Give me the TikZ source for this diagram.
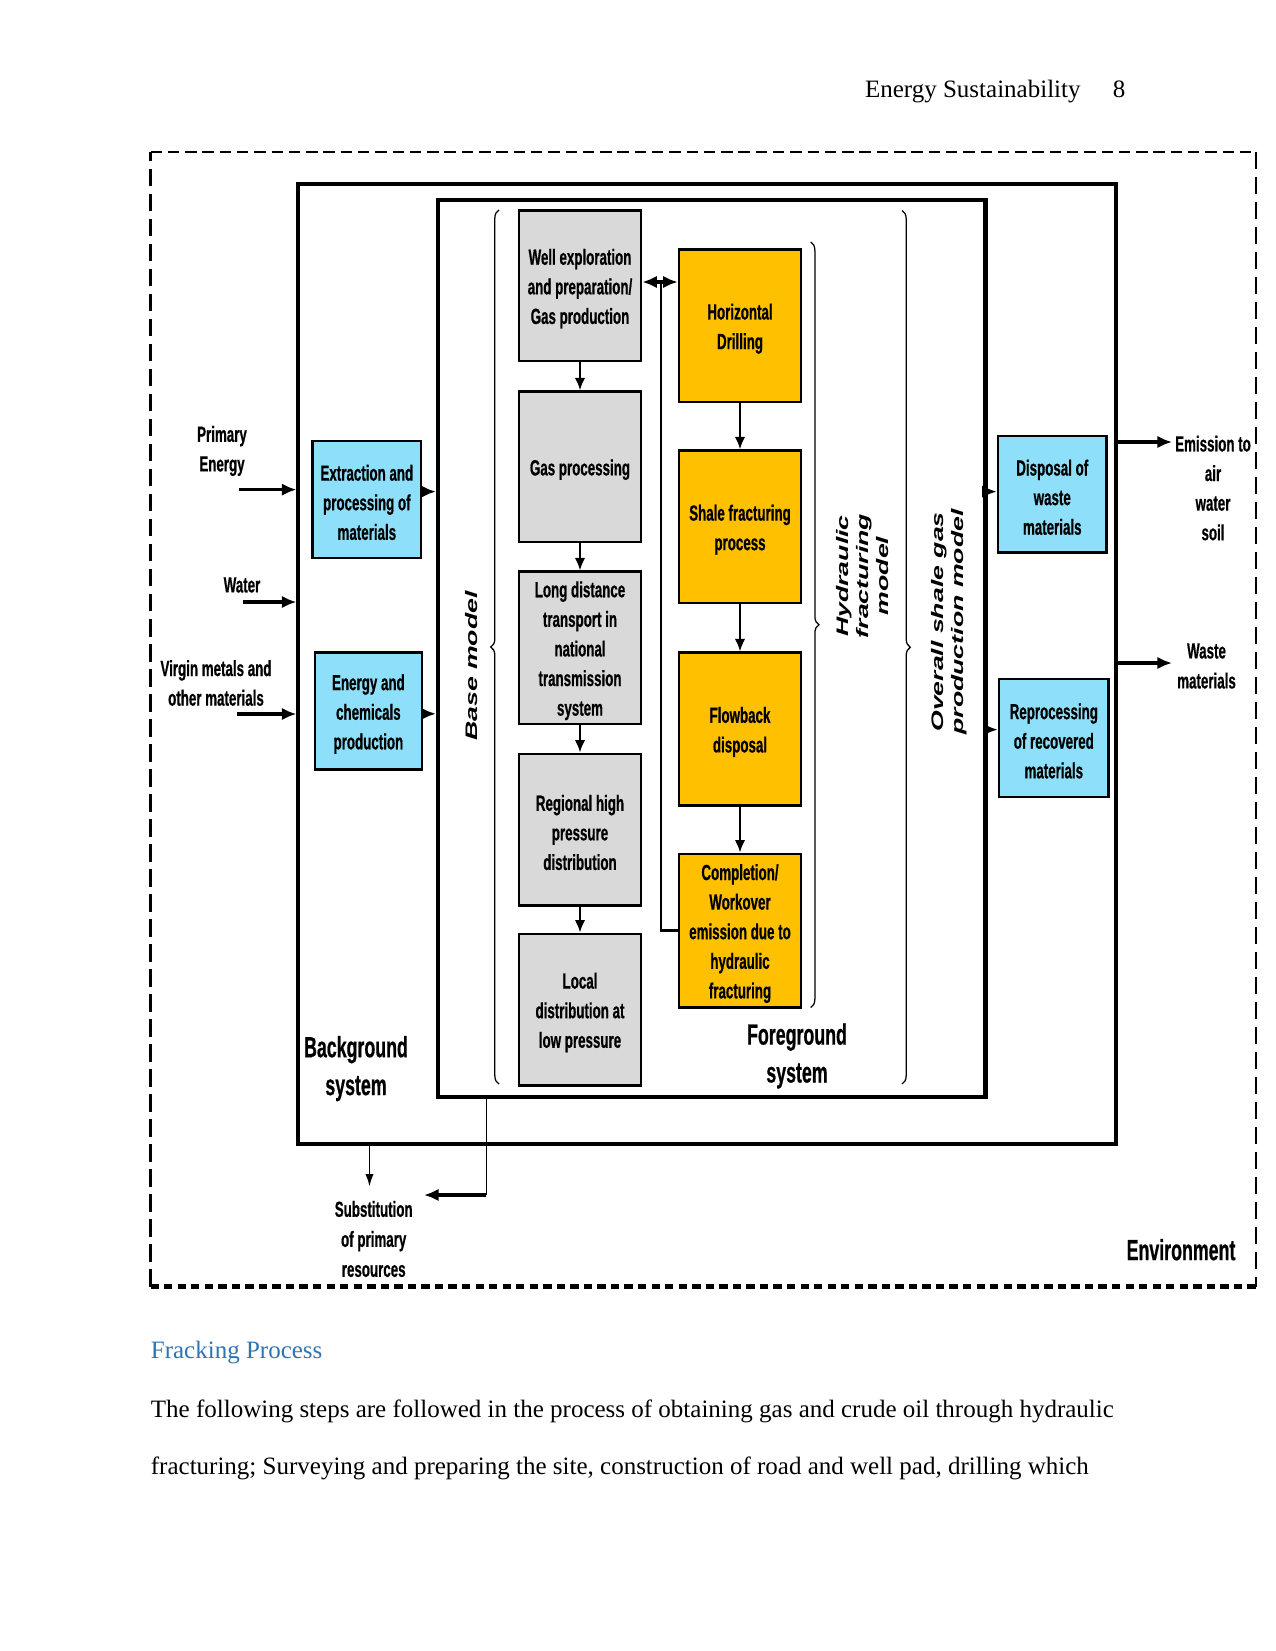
\documentclass[tikz,border=0pt]{standalone}
\usepackage{fontspec}
\setmainfont{Liberation Serif}
\newfontfamily\dfont[FakeStretch=0.61,FakeBold=0.6]{Liberation Sans}
\newfontfamily\rfont[FakeStretch=1.6]{Liberation Sans}
\usetikzlibrary{fit,arrows.meta,decorations.pathreplacing}
\definecolor{gboxc}{RGB}{217,217,217}
\definecolor{oboxc}{RGB}{255,192,0}
\definecolor{bboxc}{RGB}{142,224,250}
\definecolor{headc}{RGB}{46,116,181}
\begin{document}
\begin{tikzpicture}[x=0.48pt,y=-0.48pt,
  dtxt/.style={font=\dfont\bfseries\fontsize{10.5}{14.2}\selectfont, align=center, inner sep=0pt},
  btxt/.style={dtxt, yshift=-1.4pt},
  bigtxt/.style={font=\dfont\bfseries\fontsize{14}{18.2}\selectfont, align=center, inner sep=0pt},
  rtxt/.style={font=\rfont\bfseries\itshape\fontsize{8}{9.6}\selectfont, align=center, inner sep=0pt},
  pbox/.style={draw=black, line width=1.2pt, inner sep=0pt, fit={#1}},
  gbox/.style={pbox={#1}, fill=gboxc},
  obox/.style={pbox={#1}, fill=oboxc},
  bbox/.style={pbox={#1}, fill=bboxc},
  frame/.style={draw=black, inner sep=0pt, fit={#1}},
  arr/.style={line width=1pt, -{Latex[length=6pt,width=5pt]}},
  tarr/.style={line width=1.8pt, -{Latex[length=7pt,width=6pt]}},
  bar/.style={line width=0.6pt, decorate, decoration={brace, amplitude=4pt}},
  serif/.style={font=\fontsize{12}{14}\selectfont, inner sep=0pt}
]
\useasboundingbox (0,0) rectangle (1275,1651);

% header
\node[serif, anchor=base east] (hd) at (1081,98) {Energy Sustainability};
\node[serif, anchor=base] (pg) at (1119,98) {8};

% environment frame
\draw[line width=1pt, dash pattern=on 8.5pt off 3.5pt] (150.5,1286.5) -- (150.5,151.6);
\draw[line width=1pt, dash pattern=on 5.5pt off 2.8pt] (150.5,151.6) -- (1256,151.6);
\draw[line width=1pt, dash pattern=on 8.5pt off 3.5pt] (1256,151.6) -- (1256,1286.5);
\draw[line width=2.2pt, dash pattern=on 4pt off 2.5pt] (150.5,1286.5) -- (1256,1286.5);

% system boxes
\node[frame={(298,184) (1116,1144)}, line width=1.5pt] (bg) {};
\node[frame={(438,200) (985.5,1097)}, line width=2pt] (fg) {};

% gray column
\node[gbox={(519,210.5) (641,361)}] (g1) {};
\node[gbox={(519,391.6) (641,542)}] (g2) {};
\node[gbox={(519,571.7) (641,724)}] (g3) {};
\node[gbox={(519,753.8) (641,905.4)}] (g4) {};
\node[gbox={(519,933.8) (641,1085.4)}] (g5) {};
\node[btxt] (tg1) at (g1) {Well exploration\\and preparation/\\Gas production};
\node[btxt] (tg2) at (g2) {Gas processing};
\node[btxt] (tg3) at (g3) {Long distance\\transport in\\national\\transmission\\system};
\node[btxt] (tg4) at (g4) {Regional high\\pressure\\distribution};
\node[btxt] (tg5) at (g5) {Local\\distribution at\\low pressure};

% orange column
\node[obox={(679,249.5) (801,402)}] (o1) {};
\node[obox={(679,450.6) (801,603)}] (o2) {};
\node[obox={(679,652.7) (801,805.4)}] (o3) {};
\node[obox={(679,853.8) (801,1007.5)}] (o4) {};
\node[btxt] (to1) at (o1) {Horizontal\\Drilling};
\node[btxt] (to2) at (o2) {Shale fracturing\\process};
\node[btxt] (to3) at (o3) {Flowback\\disposal};
\node[btxt] (to4) at (o4) {Completion/\\Workover\\emission due to\\hydraulic\\fracturing};

% blue boxes
\node[bbox={(312.7,441) (421,558)}] (b1) {};
\node[bbox={(314.8,652.7) (422,769.6)}] (b2) {};
\node[bbox={(998,436) (1106.5,552.7)}] (b3) {};
\node[bbox={(999,679) (1108.6,797)}] (b4) {};
\node[btxt] (tb1) at (b1) {Extraction and\\processing of\\materials};
\node[btxt] (tb2) at (b2) {Energy and\\chemicals\\production};
\node[btxt] (tb3) at (b3) {Disposal of\\waste\\materials};
\node[btxt] (tb4) at (b4) {Reprocessing\\of recovered\\materials};

% column arrows
\foreach \a/\b in {g1/g2,g2/g3,g3/g4,g4/g5,o1/o2,o2/o3,o3/o4}
  \draw[arr] (\a.south) -- (\b.north);

% feedback loop
\coordinate (fb) at (661,282);
\draw[line width=1.2pt] (o4.west) -- (o4.west -| fb) -- (fb);
\draw[line width=1.8pt, {Latex[length=7pt,width=6pt]}-{Latex[length=7pt,width=6pt]}] (g1.east |- fb) -- (o1.west |- fb);

% blue box connections
\draw[tarr] (b1.east |- 0,491.6) -- (fg.west |- 0,491.6);
\draw[tarr] (b2.east |- 0,713.8) -- (fg.west |- 0,713.8);
\draw[tarr] (fg.east |- 0,491.6) -- (b3.west |- 0,491.6);
\draw[tarr] (fg.east |- 0,729.6) -- (b4.west |- 0,729.6);

% braces
\draw[bar] (499,1084) -- (499,210) coordinate (bm);
\draw[bar] (810.7,242) -- (810.7,1007.5) coordinate (hm);
\draw[bar] (902,210.5) -- (902,1084) coordinate (om);
\node[rtxt, rotate=90] (lbm) at (471.6,666) {Base model};
\node[rtxt, rotate=90] (lhm) at (863,576) {Hydraulic\\fracturing\\model};
\node[rtxt, rotate=90] (lom) at (949,622) {Overall shale gas\\production model};

% inputs
\node[dtxt] (lpe) at (222,451) {Primary\\Energy};
\node[dtxt] (lw) at (242,585) {Water};
\node[dtxt] (lvm) at (216,683) {Virgin metals and\\other materials};
\coordinate (ipe) at (239,489.6);
\coordinate (iw) at (243,602);
\coordinate (ivm) at (237,714);
\draw[tarr] (ipe) -- (ipe -| bg.west);
\draw[tarr] (iw) -- (iw -| bg.west);
\draw[tarr] (ivm) -- (ivm -| bg.west);

% outputs
\coordinate (oem) at (1172,442);
\coordinate (owm) at (1172,663);
\draw[tarr] (oem -| bg.east) -- (oem);
\draw[tarr] (owm -| bg.east) -- (owm);
\node[dtxt] (lem) at (1213,488) {Emission to\\air\\water\\soil};
\node[dtxt, font=\dfont\bfseries\fontsize{10.5}{14.4}\selectfont] (lwm) at (1206.5,666) {Waste\\materials};

% substitution
\coordinate (sub1) at (369.5,1186.5);
\coordinate (sub2) at (424,1195);
\coordinate (sub3) at (486.4,1195);
\draw[line width=0.8pt, -{Latex[length=6pt,width=4pt]}] (sub1 |- bg.south) -- (sub1);
\draw[line width=0.8pt] (sub3 |- fg.south) -- (sub3);
\draw[tarr] (sub3) -- (sub2);
\node[dtxt, font=\dfont\bfseries\fontsize{10.5}{14.4}\selectfont] (lsub) at (373.7,1239) {Substitution\\of primary\\resources};

% big labels
\node[bigtxt] (lbg) at (356,1068.6) {Background\\system};
\node[bigtxt] (lfg) at (797,1056) {Foreground\\system};
\node[bigtxt] (lenv) at (1181,1249.7) {Environment};

% text below
\node[serif, anchor=base west, text=headc] (h2) at (150.5,1358) {Fracking Process};
\node[serif, anchor=base west] (p1) at (150.5,1417) {The following steps are followed in the process of obtaining gas and crude oil through hydraulic};
\node[serif, anchor=base west] (p2) at (150.5,1474) {fracturing; Surveying and preparing the site, construction of road and well pad, drilling which};
\end{tikzpicture}
\end{document}
